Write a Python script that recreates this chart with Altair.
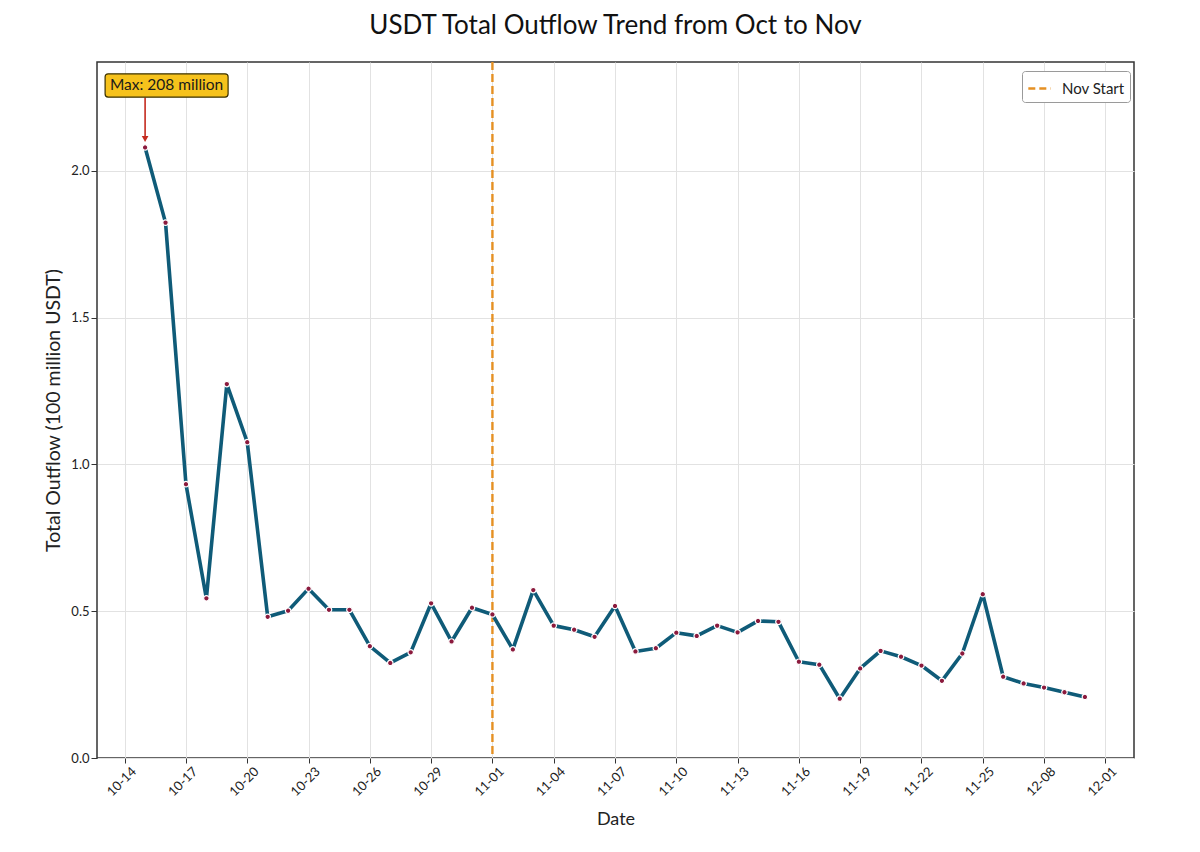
import altair as alt
import pandas as pd

# ---- data ----
dates = pd.date_range("2024-10-15", "2024-11-30", freq="D").strftime("%Y-%m-%d").tolist()
outflow = [
    2.08, 1.824, 0.933, 0.544, 1.274, 1.076, 0.481, 0.502, 0.577, 0.505,
    0.505, 0.381, 0.324, 0.360, 0.527, 0.397, 0.512, 0.489, 0.370, 0.572,
    0.451, 0.437, 0.413, 0.518, 0.363, 0.374, 0.427, 0.416, 0.451, 0.428,
    0.467, 0.464, 0.328, 0.318, 0.202, 0.305, 0.365, 0.345, 0.315, 0.263,
    0.356, 0.558, 0.277, 0.254, 0.240, 0.224, 0.208,
]
tick_dates = ["2024-10-14", "2024-10-17", "2024-10-20", "2024-10-23", "2024-10-26",
              "2024-10-29", "2024-11-01", "2024-11-04", "2024-11-07", "2024-11-10",
              "2024-11-13", "2024-11-16", "2024-11-19", "2024-11-22", "2024-11-25",
              "2024-11-28", "2024-12-01"]
tick_labels = ["10-14", "10-17", "10-20", "10-23", "10-26", "10-29", "11-01", "11-04",
               "11-07", "11-10", "11-13", "11-16", "11-19", "11-22", "11-25", "12-08", "12-01"]
y_ticks = [0.0, 0.5, 1.0, 1.5, 2.0]
nov_start = "2024-11-01"
nov_label = "Nov Start"

df = pd.DataFrame({"date": dates, "value": outflow})
imax = int(df["value"].idxmax())
max_df = pd.DataFrame({
    "date": [dates[imax]],
    "value": [outflow[imax]],
    "label": [f"Max: {round(outflow[imax] * 100)} million"],
})
nov_df = pd.DataFrame({"date": [nov_start], "name": [nov_label]})

FONT = "Lato"
tick_ms = [int(pd.Timestamp(d, tz="UTC").value // 10**6) for d in tick_dates]
label_expr = "[" + ",".join(f"'{l}'" for l in tick_labels) + "][indexof([" + \
    ",".join(str(t) for t in tick_ms) + "], datum.value)]"

def dt(s):
    t = pd.Timestamp(s)
    return alt.DateTime(year=t.year, month=t.month, date=t.day,
                        hours=t.hour, minutes=t.minute, utc=True)

x_scale = alt.Scale(type="utc", domain=[dt("2024-10-12 15:30"), dt("2024-12-02 09:40")])
y_scale = alt.Scale(domain=[0, outflow[imax] * 1.14], nice=False, zero=True)

x_axis = alt.Axis(
    title="Date", values=[dt(d) for d in tick_dates], labelExpr=label_expr,
    labelAngle=-45, labelAlign="right", labelBaseline="middle", labelOffset=9,
    labelPadding=6, labelFontSize=13, tickSize=5, titleFontSize=18,
    titlePadding=12, grid=True,
)
y_axis = alt.Axis(
    title="Total Outflow (100 million USDT)", values=y_ticks, format=".1f",
    labelFontSize=13, tickSize=6, titleFontSize=19.5, titlePadding=7, grid=True,
)

base = alt.Chart(df).encode(
    x=alt.X("date:T", scale=x_scale, axis=x_axis),
    y=alt.Y("value:Q", scale=y_scale, axis=y_axis),
)

line = base.mark_line(color="#0f5b78", strokeWidth=3.6, strokeJoin="round")
points = base.mark_point(filled=True, shape="circle", size=30, fill="#8b1a3d",
                         stroke="white", strokeWidth=1.2, opacity=1)

nov_rule = alt.Chart(nov_df).mark_rule(strokeDash=[8, 4], strokeWidth=2.4).encode(
    x=alt.X("date:T", scale=x_scale, axis=x_axis),
    color=alt.Color("name:N", scale=alt.Scale(range=["#e59023"]),
                    legend=alt.Legend(
                        title=None, orient="none", legendX=925, legendY=9,
                        symbolType="stroke", symbolDash=[7, 4], symbolStrokeWidth=2.6,
                        symbolSize=500, labelFontSize=15, labelFont=FONT,
                        labelColor="#222", fillColor="white", strokeColor="#9a9a9a",
                        cornerRadius=3, padding=5, labelOffset=10,
                    )),
)

box_path = ("M -0.95 -0.19 L 0.95 -0.19 Q 1 -0.19 1 -0.14 L 1 0.14 Q 1 0.19 0.95 0.19 "
            "L -0.95 0.19 Q -1 0.19 -1 0.14 L -1 -0.14 Q -1 -0.19 -0.95 -0.19 Z")
ann_base = alt.Chart(max_df).encode(
    x=alt.X("date:T", scale=x_scale, axis=x_axis),
    y=alt.Y("value:Q", scale=y_scale, axis=y_axis),
)
box = ann_base.mark_point(shape=box_path, size=123 ** 2, filled=True, fill="#f6c21c",
                          stroke="#3a3000", strokeWidth=1.2, opacity=1,
                          xOffset=21.5, yOffset=-62)
box_text = ann_base.mark_text(font=FONT, fontSize=15.5, color="#1a1a1a",
                              dx=21.5, dy=-62, baseline="middle").encode(text="label:N")
arrow_line = ann_base.mark_rule(color="#c42a1e", strokeWidth=1.6,
                                yOffset=-50, y2Offset=-10).encode(y2="value:Q")
arrow_head = ann_base.mark_point(shape="triangle-down", filled=True, fill="#c42a1e",
                                 size=45, opacity=1, yOffset=-8.5)

chart = alt.layer(nov_rule, line, points, arrow_line, arrow_head, box, box_text).properties(
    width=1037, height=696,
    title=alt.Title("USDT Total Outflow Trend from Oct to Nov", fontSize=26,
                    font=FONT, fontWeight="normal", color="#111", offset=22,
                    anchor="middle"),
    autosize=alt.AutoSizeParams(type="none"),
    padding={"left": 89, "top": 54, "right": 50, "bottom": 86},
).configure(
    font=FONT,
    background="white",
).configure_view(
    stroke="#333", strokeWidth=1.5,
).configure_axis(
    domain=False, gridColor="#e2e2e2", gridWidth=1, tickColor="#333",
    labelColor="#222", titleColor="#222", labelFont=FONT, titleFont=FONT,
    titleFontWeight="normal",
)

chart.save("out.html", embed_options={"renderer": "svg", "actions": False})
